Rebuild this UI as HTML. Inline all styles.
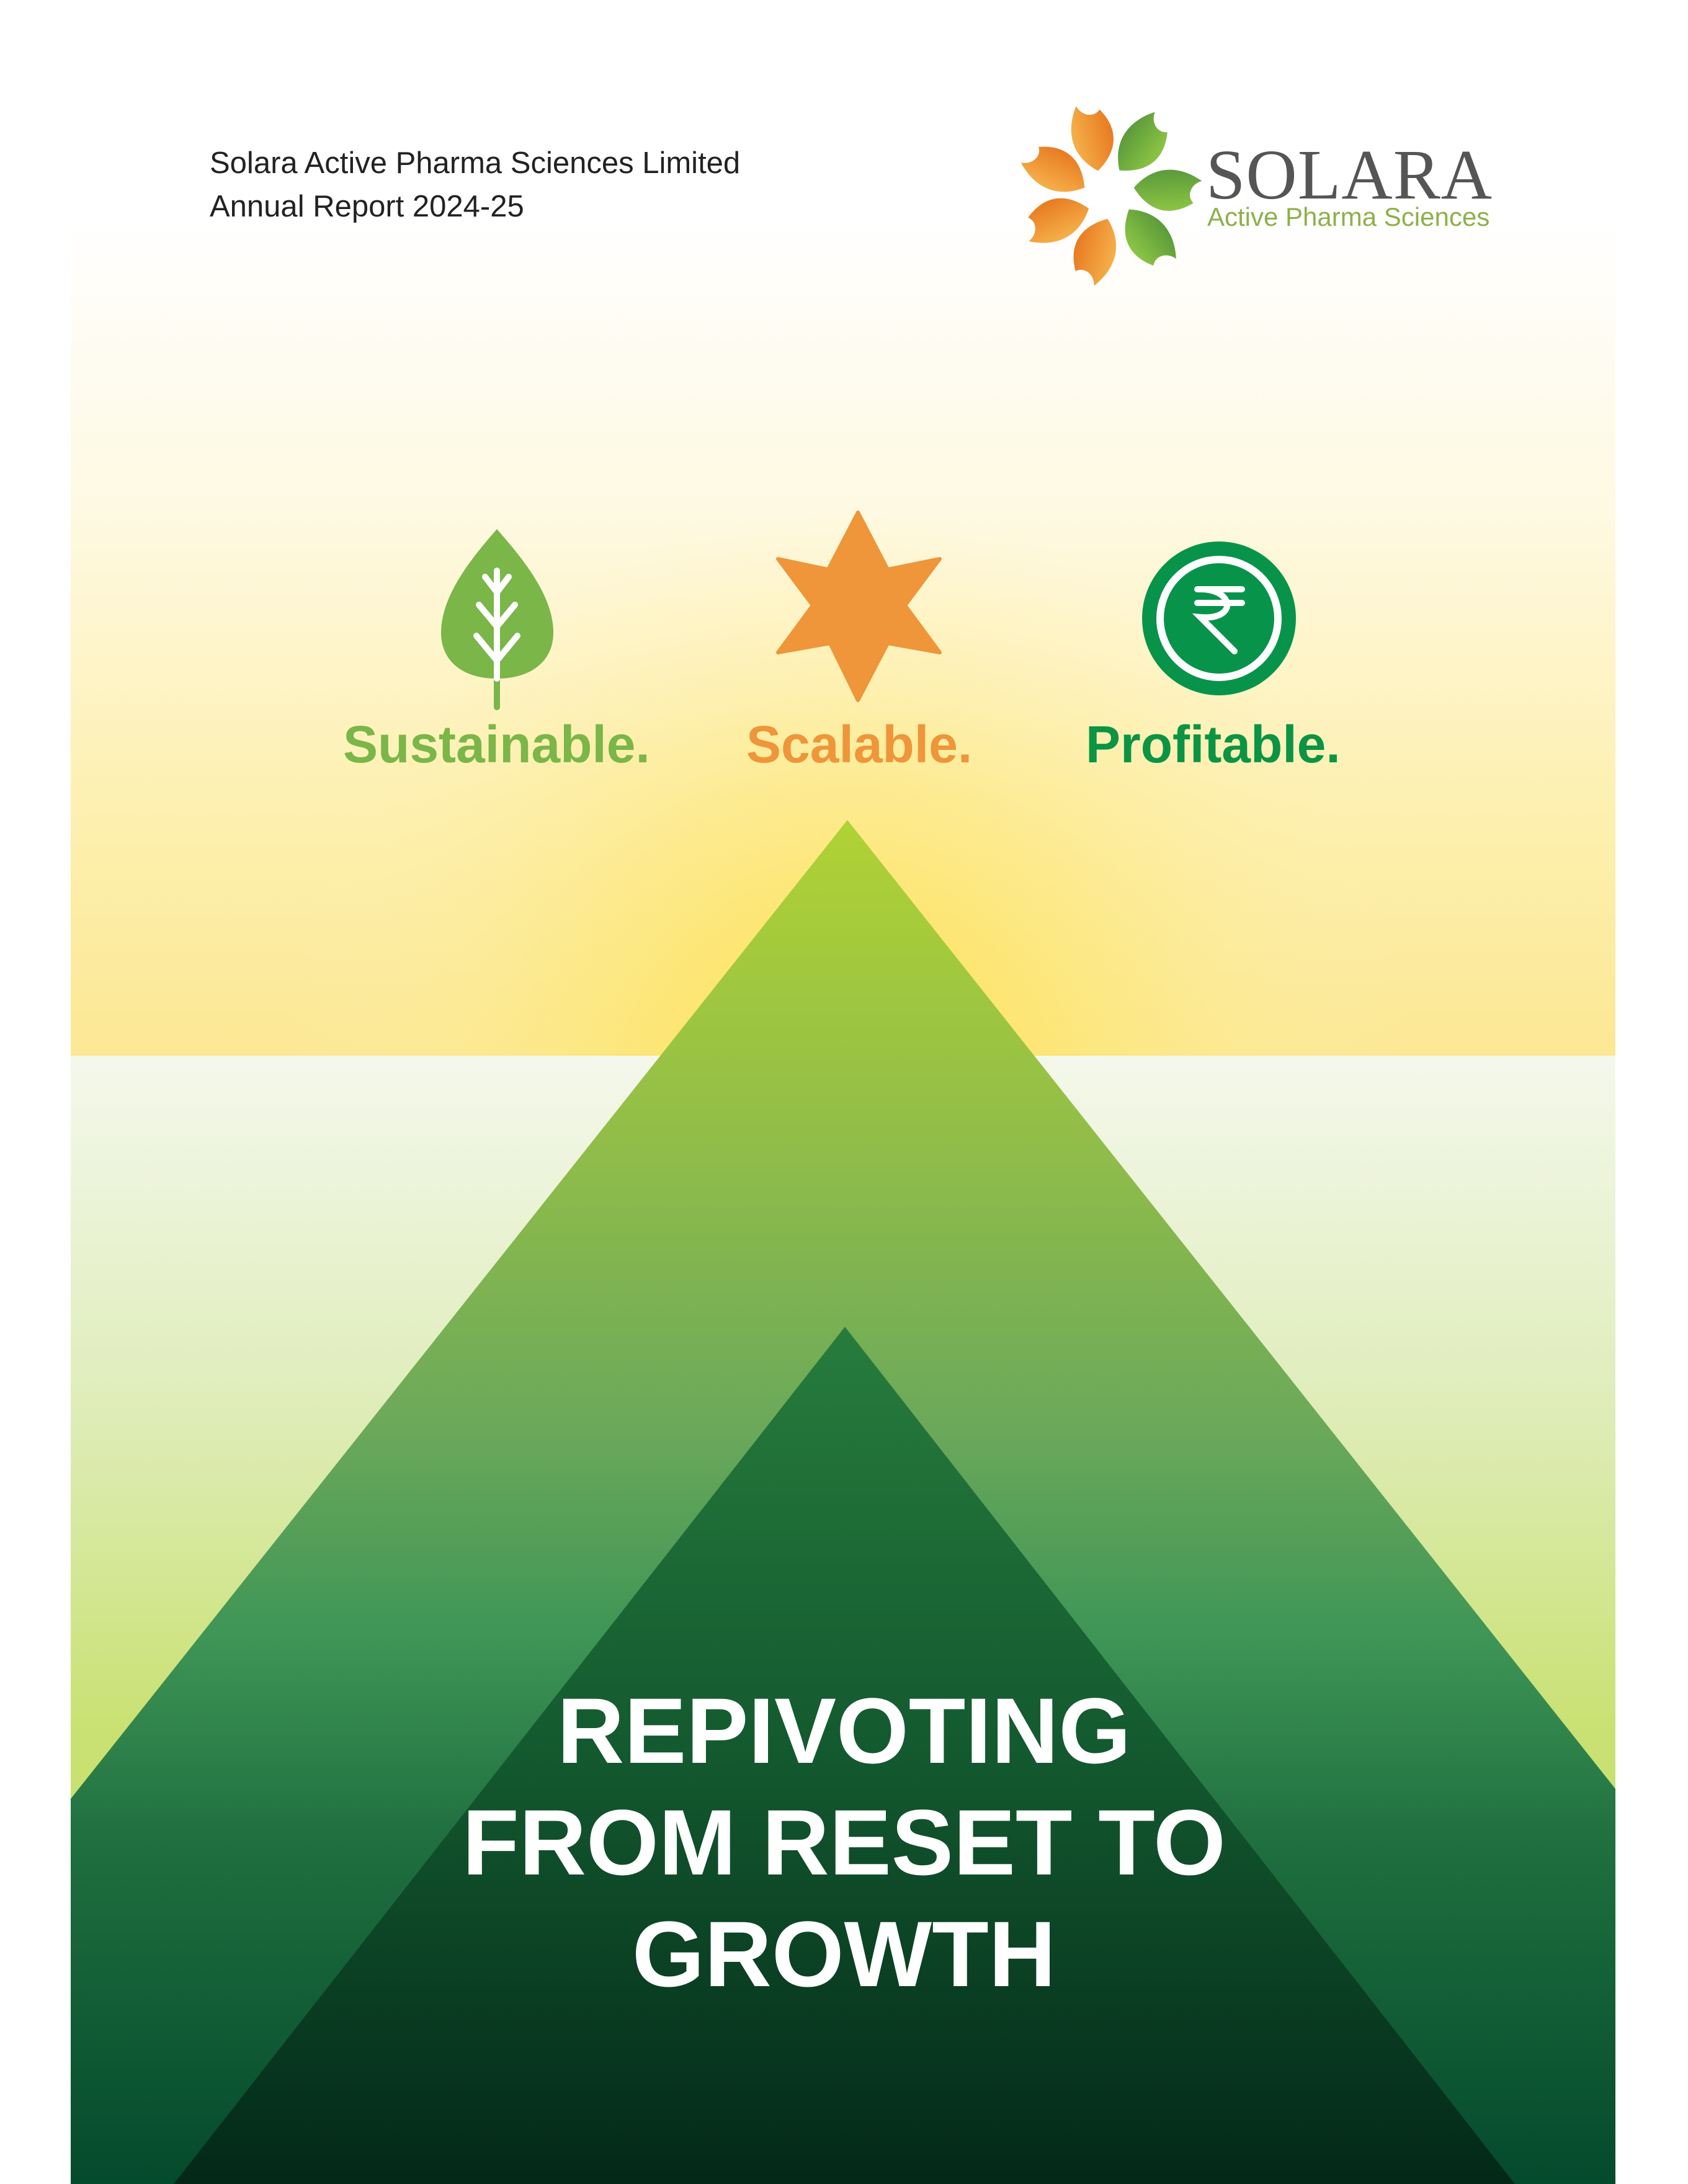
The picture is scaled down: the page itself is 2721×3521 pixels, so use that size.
<!DOCTYPE html>
<html><head><meta charset="utf-8"><style>
html,body{margin:0;padding:0;overflow:hidden;height:3521px}
body{width:2721px;height:3521px;position:relative;overflow:hidden;background:#fff;font-family:"Liberation Sans",sans-serif}
.t{position:absolute;white-space:nowrap}
svg{display:block}
</style></head><body>
<svg width="2721" height="3521" style="position:absolute;left:0;top:0">
<defs>
<linearGradient id="skyl" x1="0" y1="350" x2="0" y2="1702" gradientUnits="userSpaceOnUse">
<stop offset="0" stop-color="#ffffff"/>
<stop offset="0.35" stop-color="#fef9e2"/>
<stop offset="0.7" stop-color="#fdf0b0"/>
<stop offset="1" stop-color="#fce894"/>
</linearGradient>
<radialGradient id="sky" cx="1366" cy="1720" r="900" gradientUnits="userSpaceOnUse">
<stop offset="0" stop-color="#fde04a" stop-opacity="1"/>
<stop offset="0.5" stop-color="#fde77a" stop-opacity="0.6"/>
<stop offset="1" stop-color="#fdf0b0" stop-opacity="0"/>
</radialGradient>
<linearGradient id="ground" x1="0" y1="1702" x2="0" y2="3521" gradientUnits="userSpaceOnUse">
<stop offset="0" stop-color="#f4f8ec"/>
<stop offset="0.3" stop-color="#e0edbb"/>
<stop offset="0.6" stop-color="#c9e172"/>
<stop offset="1" stop-color="#c4de68"/>
</linearGradient>
<linearGradient id="big" x1="0" y1="1322" x2="0" y2="3521" gradientUnits="userSpaceOnUse">
<stop offset="0" stop-color="#b0d234"/>
<stop offset="0.25" stop-color="#8fbc4a"/>
<stop offset="0.45" stop-color="#6aa85a"/>
<stop offset="0.6" stop-color="#3e9556"/>
<stop offset="0.75" stop-color="#1f6f3f"/>
<stop offset="1" stop-color="#044a2c"/>
</linearGradient>
<linearGradient id="small" x1="0" y1="2139" x2="0" y2="3521" gradientUnits="userSpaceOnUse">
<stop offset="0" stop-color="#277c3d"/>
<stop offset="0.5" stop-color="#13592f"/>
<stop offset="1" stop-color="#032818"/>
</linearGradient>
<clipPath id="panel"><rect x="114" y="0" width="2490" height="3521"/></clipPath>
<linearGradient id="og" x1="0" y1="0" x2="1" y2="0"><stop offset="0" stop-color="#f5b04a"/><stop offset="1" stop-color="#e87b22"/></linearGradient>
<linearGradient id="gg" x1="0" y1="0" x2="1" y2="0"><stop offset="0" stop-color="#5a9a3a"/><stop offset="1" stop-color="#8cc544"/></linearGradient>
<g id="petal"><path d="M-8,-40 C-40,-70 -45,-110 -15,-150 C-10,-130 10,-125 20,-135 C40,-100 35,-65 -8,-40 Z"/></g>
</defs>
<g clip-path="url(#panel)">
<rect x="0" y="0" width="2721" height="1702" fill="url(#skyl)"/>
<rect x="0" y="0" width="2721" height="1702" fill="url(#sky)"/>
<rect x="114" y="1702" width="2490" height="1819" fill="url(#ground)"/>
<polygon points="1366,1322 -600,3800 3330,3800" fill="url(#big)"/>
<polygon points="1362,2139 280,3521 2442,3521" fill="url(#small)"/>
</g>
<g transform="translate(1788,312)">
<g fill="url(#og)">
<use href="#petal" transform="rotate(-15)"/>
<use href="#petal" transform="rotate(-65)"/>
<use href="#petal" transform="rotate(-115)"/>
<use href="#petal" transform="rotate(-165)"/>
</g>
<g fill="url(#gg)">
<use href="#petal" transform="rotate(35)"/>
<use href="#petal" transform="rotate(88)"/>
<use href="#petal" transform="rotate(140)"/>
</g>
</g>
<path d="M801,853 C760,900 711,960 711,1020 C711,1065 745,1094 801,1094 C857,1094 892,1065 892,1020 C892,960 842,900 801,853 Z" fill="#7ab648"/>
<rect x="796" y="1080" width="10" height="65" rx="5" fill="#7ab648"/>
<g stroke="#fff" stroke-width="10" stroke-linecap="round" fill="none">
<path d="M801,920 L801,1094"/>
<path d="M801,955 L782,930 M801,955 L820,930"/>
<path d="M801,1010 L772,975 M801,1010 L830,975"/>
<path d="M801,1065 L768,1025 M801,1065 L834,1025"/>
</g>
<path d="M1383,826 L1431,918 L1515,901 L1459,976 L1515,1052 L1431,1037 L1383,1129 L1338,1037 L1254,1052 L1310,976 L1254,901 L1335,918 Z" fill="#ef953a" stroke="#ef953a" stroke-width="6" stroke-linejoin="round"/>
<circle cx="1965" cy="997" r="124" fill="#07944a"/>
<circle cx="1965" cy="997" r="95" fill="none" stroke="#fff" stroke-width="12"/>
<g stroke="#fff" stroke-width="10" fill="none" stroke-linecap="round">
<path d="M1930,950 L2002,950 M1930,972 L2002,972"/>
<path d="M1935,950 C1990,950 1995,1000 1935,995 L1990,1050"/>
</g>
</svg>
<div class="t" style="left:338px;top:234px;font-size:49px;color:#222;line-height:58px">Solara Active Pharma Sciences Limited</div>
<div class="t" style="left:338px;top:304px;font-size:49px;color:#222;line-height:58px">Annual Report 2024-25</div>
<div class="t" style="left:1944px;top:224px;font-family:'Liberation Serif',serif;font-size:114px;color:#555;line-height:116px;letter-spacing:1px">SOLARA</div>
<div class="t" style="left:1946px;top:326px;font-size:42px;color:#8db04a;line-height:48px">Active Pharma Sciences</div>
<div class="t" style="left:553px;top:1150px;font-size:84px;font-weight:bold;color:#7ab648;line-height:100px">Sustainable.</div>
<div class="t" style="left:1203px;top:1150px;font-size:84px;font-weight:bold;color:#ef953a;line-height:100px">Scalable.</div>
<div class="t" style="left:1750px;top:1150px;font-size:84px;font-weight:bold;color:#0b9444;line-height:100px">Profitable.</div>
<div class="t" style="left:0;width:2721px;text-align:center;top:2700px;font-size:150px;font-weight:bold;color:#fff;line-height:180px;white-space:normal">REPIVOTING<br>FROM RESET TO<br>GROWTH</div>
</body></html>
